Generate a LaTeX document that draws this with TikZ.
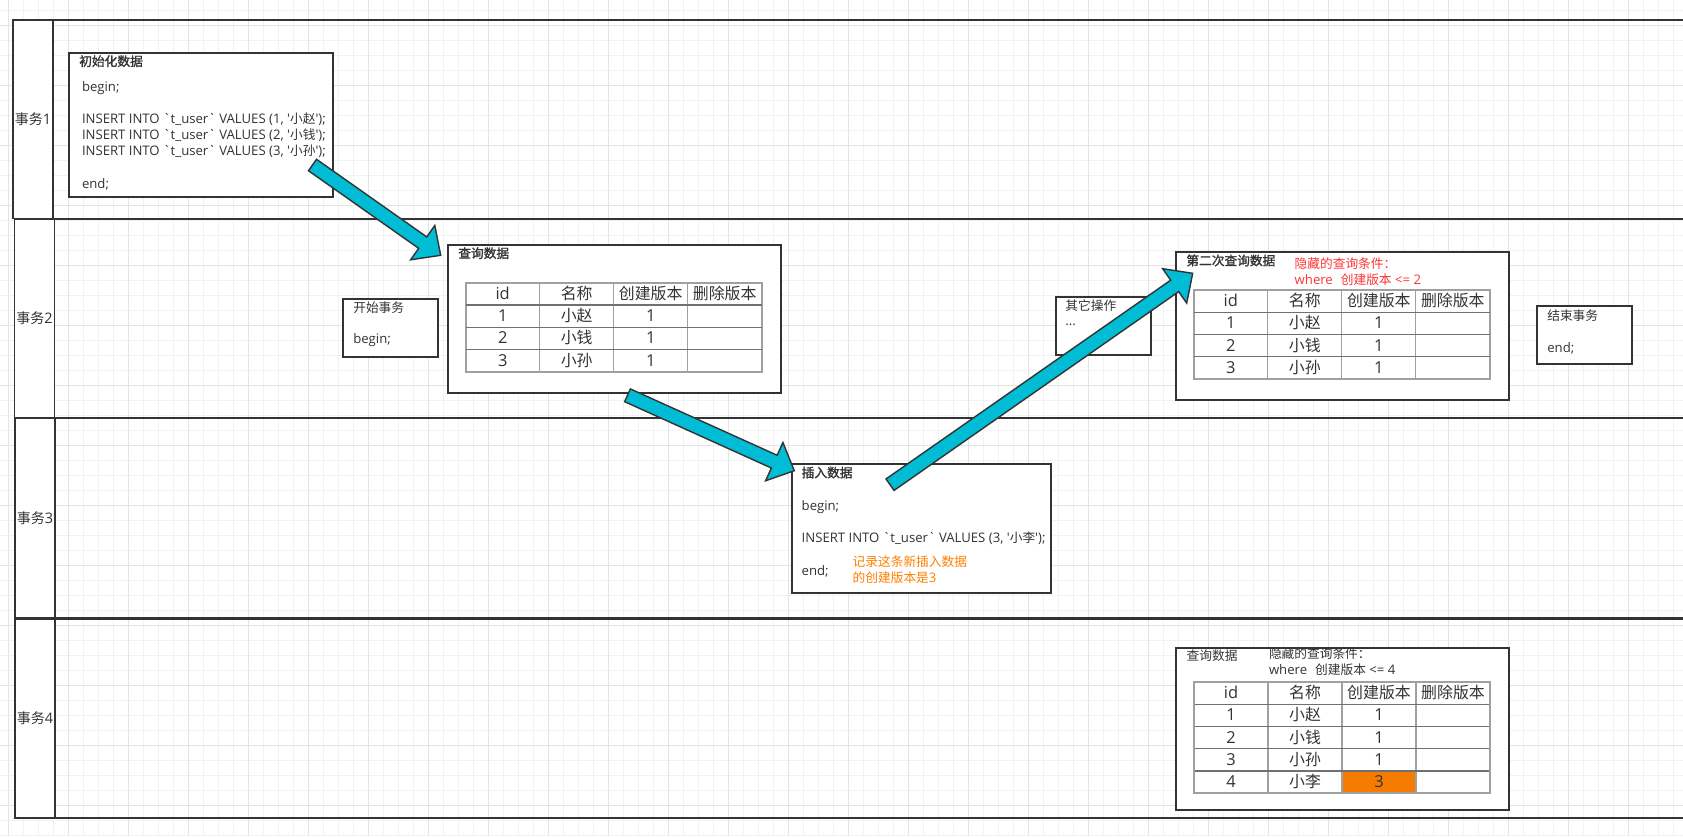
\documentclass[tikz,border=0pt]{standalone}
\usepackage{fontspec}
\usetikzlibrary{calc}
\newfontfamily\lat{Open Sans}[Scale=1.035]
\newfontfamily\cjk{Noto Sans CJK SC}
\newfontfamily\cjkb{Noto Sans CJK SC}[FakeBold=1.5]
\newcommand\zh[1]{{\cjk #1}}
\newcommand\zhb[1]{{\cjkb #1}}
\definecolor{ink}{HTML}{333333}
\definecolor{gridminor}{HTML}{F2F2F2}
\definecolor{gridmajor}{HTML}{E4E4E4}
\definecolor{tline}{HTML}{A0A0A0}
\definecolor{trow}{HTML}{707070}
\definecolor{redtxt}{HTML}{FF3333}
\definecolor{orangetxt}{HTML}{FF8000}
\definecolor{orfill}{HTML}{F57C00}
\definecolor{arrowfill}{HTML}{00BCD4}
\tikzset{
  laneframe/.style={draw=ink, line width=1.6pt, anchor=north west, inner sep=0pt, outer sep=0pt},
  lanecol/.style={draw=ink, line width=1.6pt, fill=white, anchor=north west, inner sep=0pt, outer sep=0pt, text=ink, font={\lat\fontsize{14}{16}\selectfont}},
  box/.style={draw=ink, line width=1.8pt, fill=white, anchor=north west, inner sep=0pt, outer sep=0pt},
  txt/.style={anchor=base west, inner sep=0pt, outer sep=0pt, text=ink, font={\lat\fontsize{12.7}{15}\selectfont}},
  tframe/.style={draw=tline, line width=1.6pt, fill=white, anchor=north west, inner sep=0pt, outer sep=0pt},
  tv/.style={draw=tline, line width=1.3pt},
  th/.style={draw=trow, line width=1.3pt},
  tc/.style={anchor=base, inner sep=0pt, outer sep=0pt, text=ink, font={\lat\fontsize{15.9}{18}\selectfont}},
  barrow/.style={draw=ink, line width=1.4pt, fill=arrowfill, line join=miter},
}
\newcommand\mktable[4]{%
  \node[tframe, minimum width=296pt, minimum height={#4*22.25pt}] (#1) at (#2,#3) {};
  \foreach \k in {1,2,3} \draw[tv] ($(#1.north west)+({74*\k},0)$) -- ($(#1.south west)+({74*\k},0)$);
  \pgfmathtruncatemacro\tlast{#4-1}
  \foreach \k in {1,...,\tlast} \draw[th] ($(#1.north west)+(0,{22.25*\k})$) -- ($(#1.north east)+(0,{22.25*\k})$);
}
\newcommand\tcell[4]{\node[tc] (#1-#2-#3) at ($(#1.north west)+({74*#3-37},{22.25*#2-11.125+5.6})$) {#4};}
\newcommand\fillrows[1]{%
  \tcell{#1}{1}{1}{id}\tcell{#1}{1}{2}{\zh{名称}}\tcell{#1}{1}{3}{\zh{创建版本}}\tcell{#1}{1}{4}{\zh{删除版本}}
  \tcell{#1}{2}{1}{1}\tcell{#1}{2}{2}{\zh{小赵}}\tcell{#1}{2}{3}{1}
  \tcell{#1}{3}{1}{2}\tcell{#1}{3}{2}{\zh{小钱}}\tcell{#1}{3}{3}{1}
  \tcell{#1}{4}{1}{3}\tcell{#1}{4}{2}{\zh{小孙}}\tcell{#1}{4}{3}{1}
}
\newcommand\blockarrow[2]{%
  \coordinate (ba-h) at ($(#2)!22pt!(#1)$);
  \draw[barrow] ($(#1)!7pt!90:(#2)$) -- ($(ba-h)!7pt!90:(#2)$) -- ($(ba-h)!21pt!90:(#2)$) -- (#2)
    -- ($(ba-h)!21pt!-90:(#2)$) -- ($(ba-h)!7pt!-90:(#2)$) -- ($(#1)!7pt!-90:(#2)$) -- cycle;
}
\begin{document}
\begin{tikzpicture}[x=1pt,y=-1pt]
\useasboundingbox (0,0) rectangle (1683,836);
\clip (0,0) rectangle (1683,836);
\fill[white] (0,0) rectangle (1683,836);
% grid
\foreach \i in {0,...,112} \draw[draw=gridminor, line width=1pt] ({8.33+15*\i},0) -- ({8.33+15*\i},836);
\foreach \i in {0,...,56} \draw[draw=gridminor, line width=1pt] (0,{10+15*\i}) -- (1683,{10+15*\i});
\foreach \i in {0,...,28} \draw[draw=gridmajor, line width=1pt] ({8.33+60*\i},0) -- ({8.33+60*\i},836);
\foreach \i in {0,...,13} \draw[draw=gridmajor, line width=1pt] (0,{25+60*\i}) -- (1683,{25+60*\i});
% lanes
\node[laneframe, minimum width=1700pt, minimum height=198.5pt] (lane1) at (13,20) {};
\node[lanecol, minimum width=40pt, minimum height=198.5pt] (lab1) at (13,20) {\zh{事务}1};
\node[laneframe, minimum width=1700pt, minimum height=198.5pt] (lane2) at (14.3,219) {};
\node[lanecol, minimum width=40.3pt, minimum height=198.5pt] (lab2) at (14.3,219) {\zh{事务}2};
\node[laneframe, minimum width=1700pt, minimum height=200.3pt] (lane3) at (15,417.7) {};
\node[lanecol, minimum width=40pt, minimum height=200.3pt] (lab3) at (15,417.7) {\zh{事务}3};
\node[laneframe, minimum width=1700pt, minimum height=198.4pt] (lane4) at (15,619.3) {};
\node[lanecol, minimum width=40pt, minimum height=198.4pt] (lab4) at (15,619.3) {\zh{事务}4};
% init box
\node[box, minimum width=264.1pt, minimum height=144pt] (init) at (68.7,52.7) {};
\node[txt] (init-t) at (79.3,66) {\zhb{初始化数据}};
\node[txt] (init-1) at (82,91) {begin;};
\node[txt] (init-2) at (82,123.3) {INSERT INTO `t\_user` VALUES (1, '\zh{小赵}');};
\node[txt] (init-3) at (82,139.6) {INSERT INTO `t\_user` VALUES (2, '\zh{小钱}');};
\node[txt] (init-4) at (82,155.9) {INSERT INTO `t\_user` VALUES (3, '\zh{小孙}');};
\node[txt] (init-5) at (82,188.2) {end;};
% start
\node[box, minimum width=95.6pt, minimum height=58pt] (start) at (342.7,299) {};
\node[txt] (start-1) at (353.3,312) {\zh{开始事务}};
\node[txt] (start-2) at (353.3,343.5) {begin;};
% query 1
\node[box, minimum width=333.3pt, minimum height=148pt] (q1) at (447.7,245) {};
\node[txt] (q1-t) at (458.3,258) {\zhb{查询数据}};
\mktable{tab1}{465.7}{282.7}{4}
\fillrows{tab1}
% other
\node[box, minimum width=95.1pt, minimum height=58.6pt] (other) at (1056,296.7) {};
\node[txt] (other-1) at (1065.4,310) {\zh{其它操作}};
\node[txt] (other-2) at (1065.4,325) {...};
% end
\node[box, minimum width=95.1pt, minimum height=58.6pt] (finish) at (1537,305.7) {};
\node[txt] (finish-1) at (1547.3,320) {\zh{结束事务}};
\node[txt] (finish-2) at (1547.3,352) {end;};
% query 2
\node[box, minimum width=333pt, minimum height=147.7pt] (q2) at (1175.7,252.3) {};
\node[txt] (q2-t) at (1186.4,265.3) {\zhb{第二次查询数据}};
\node[txt, text=redtxt] (q2-c1) at (1294.7,268) {\zh{隐藏的查询条件：}};
\node[txt, text=redtxt] (q2-c2) at (1294.7,284) {where\hspace{8pt}\zh{创建版本} <= 2};
\mktable{tab2}{1193.8}{290}{4}
\fillrows{tab2}
% insert
\node[box, minimum width=259.3pt, minimum height=128.7pt] (ins) at (791.7,464) {};
\node[txt] (ins-t) at (801.7,477.4) {\zhb{插入数据}};
\node[txt] (ins-1) at (801.7,510.5) {begin;};
\node[txt] (ins-2) at (801.7,542.9) {INSERT INTO `t\_user` VALUES (3, '\zh{小李}');};
\node[txt] (ins-3) at (801.7,575.2) {end;};
\node[txt, text=orangetxt] (ins-n1) at (852.7,566.3) {\zh{记录这条新插入数据}};
\node[txt, text=orangetxt] (ins-n2) at (852.7,582.5) {\zh{的创建版本是}3};
% query 4
\node[box, minimum width=333.6pt, minimum height=161.7pt] (q4) at (1175.7,648.3) {};
\node[txt] (q4-t) at (1186.7,660.8) {\zh{查询数据}};
\node[txt] (q4-c1) at (1269,658.5) {\zh{隐藏的查询条件：}};
\node[txt] (q4-c2) at (1269,674.5) {where\hspace{8pt}\zh{创建版本} <= 4};
\mktable{tab4}{1194}{682}{5}
\fill[orfill] ($(tab4.north west)+(148,89)$) rectangle ($(tab4.north west)+(222,111.25)$);
\foreach \k in {1,2,3} \draw[tv] ($(tab4.north west)+({74*\k},0)$) -- ($(tab4.south west)+({74*\k},0)$);
\foreach \k in {1,...,4} \draw[th] ($(tab4.north west)+(0,{22.25*\k})$) -- ($(tab4.north east)+(0,{22.25*\k})$);
\draw[draw=tline, line width=1.6pt] (tab4.north west) rectangle (tab4.south east);
\fillrows{tab4}
\tcell{tab4}{5}{1}{4}\tcell{tab4}{5}{2}{\zh{小李}}\tcell{tab4}{5}{3}{3}
% arrows
\coordinate (a1s) at (312.5,165); \coordinate (a1e) at (440.7,255.3);
\coordinate (a2s) at (627.5,395.3); \coordinate (a2e) at (794.3,470.7);
\coordinate (a3s) at (890,484.7); \coordinate (a3e) at (1192.7,273.3);
\blockarrow{a1s}{a1e}
\blockarrow{a2s}{a2e}
\blockarrow{a3s}{a3e}
\end{tikzpicture}
\end{document}
